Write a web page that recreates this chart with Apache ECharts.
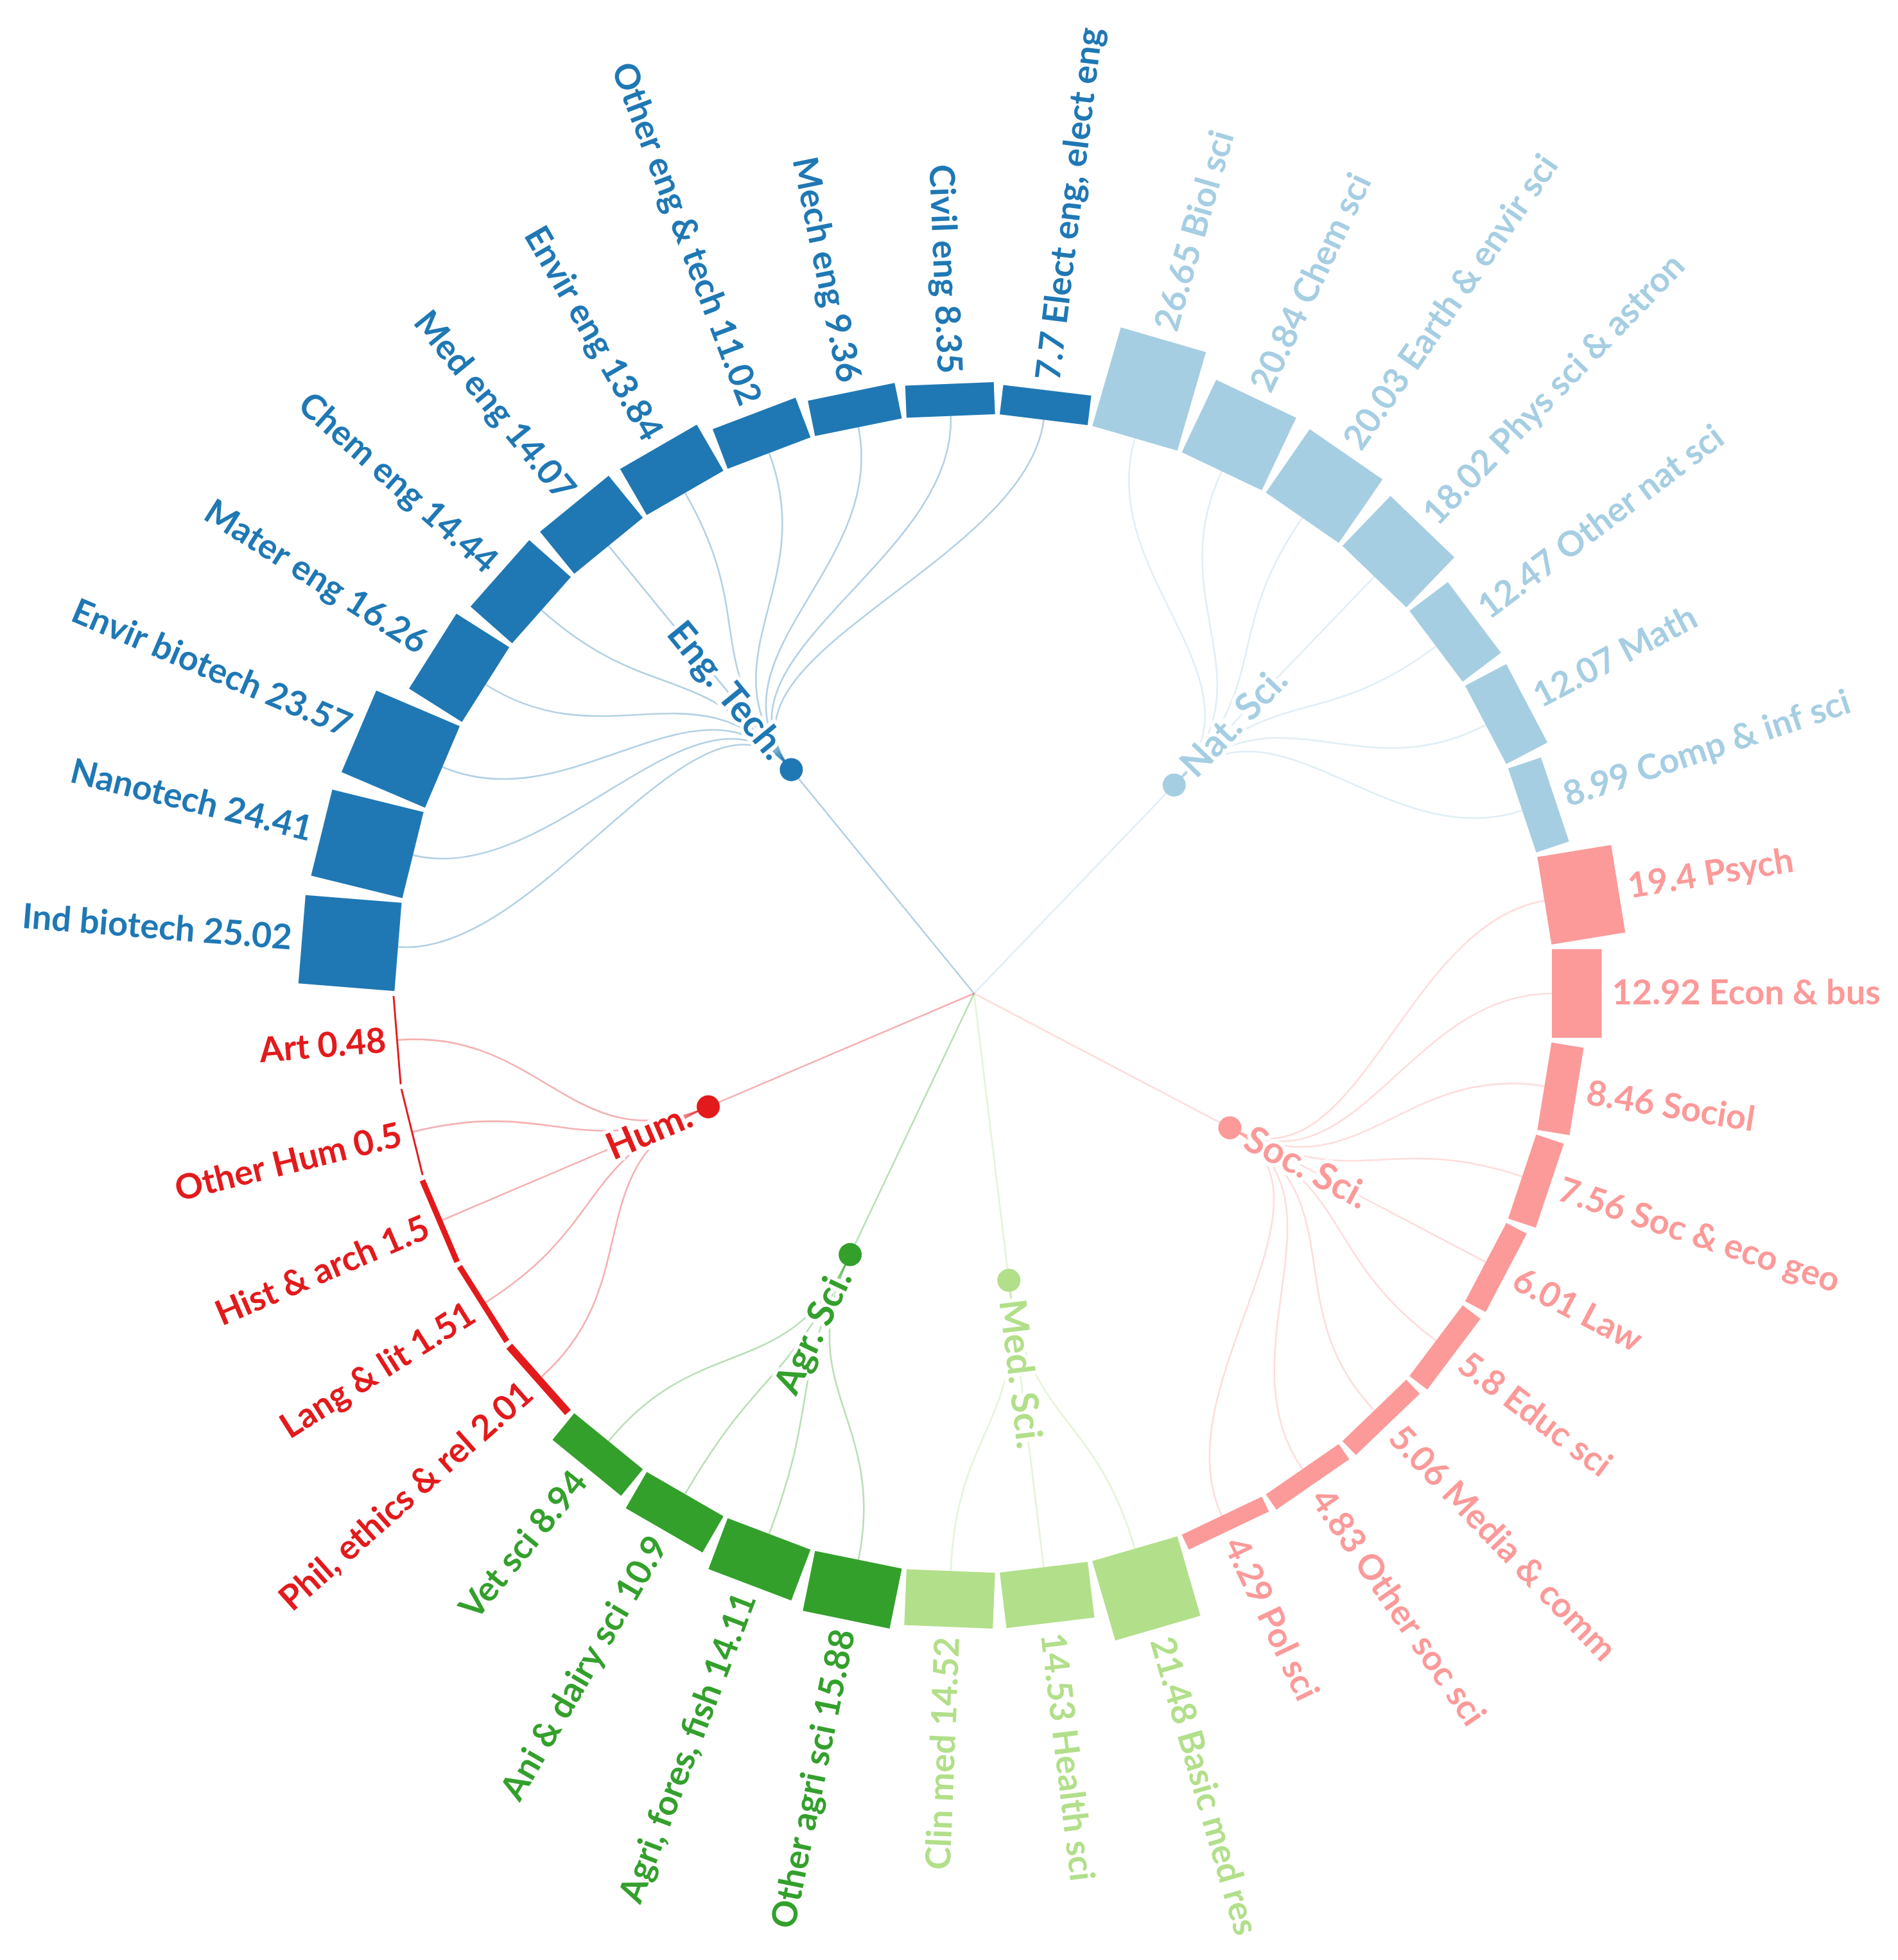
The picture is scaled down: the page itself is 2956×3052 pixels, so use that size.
<!DOCTYPE html>
<html>
<head>
<meta charset="utf-8">
<script src="https://cdn.jsdelivr.net/npm/echarts@6/dist/echarts.min.js"></script>
<style>
html,body{margin:0;padding:0;background:#ffffff;}
#chart{width:2956px;height:3052px;}
</style>
</head>
<body>
<div id="chart"></div>
<script>
// ---------- DATA ----------
const groupNames  = ['Eng. Tech.', 'Nat. Sci.', 'Soc. Sci.', 'Med. Sci.', 'Agr. Sci.', 'Hum.'];
const groupColors = ['#1f78b4', '#a6cee3', '#fb9a99', '#b2df8a', '#33a02c', '#e31a1c'];

const engNames  = ['Ind biotech', 'Nanotech', 'Envir biotech', 'Mater eng', 'Chem eng', 'Med eng', 'Envir eng', 'Other eng & tech', 'Mech eng', 'Civil eng', 'Elect eng, elect eng'];
const engValues = [25.02, 24.41, 23.57, 16.26, 14.44, 14.07, 13.84, 11.02, 9.36, 8.35, 7.7];

const natNames  = ['Biol sci', 'Chem sci', 'Earth & envir sci', 'Phys sci & astron', 'Other nat sci', 'Math', 'Comp & inf sci'];
const natValues = [26.65, 20.84, 20.03, 18.02, 12.47, 12.07, 8.99];

const socNames  = ['Psych', 'Econ & bus', 'Sociol', 'Soc & eco geo', 'Law', 'Educ sci', 'Media & comm', 'Other soc sci', 'Pol sci'];
const socValues = [19.4, 12.92, 8.46, 7.56, 6.01, 5.8, 5.06, 4.83, 4.29];

const medNames  = ['Basic med res', 'Health sci', 'Clin med'];
const medValues = [21.48, 14.53, 14.52];

const agrNames  = ['Other agri sci', 'Agri, fores, fish', 'Ani & dairy sci', 'Vet sci'];
const agrValues = [15.88, 14.11, 10.9, 8.94];

const humNames  = ['Phil, ethics & rel', 'Lang & lit', 'Hist & arch', 'Other Hum', 'Art'];
const humValues = [2.01, 1.51, 1.5, 0.5, 0.48];

const groupLeafNames  = [engNames, natNames, socNames, medNames, agrNames, humNames];
const groupLeafValues = [engValues, natValues, socValues, medValues, agrValues, humValues];

// ---------- flatten ----------
const leafNames = [], leafValues = [], leafGroup = [];
const groupLeaves = groupNames.map(() => []);
groupLeafNames.forEach((names, g) => {
  names.forEach((n, i) => {
    groupLeaves[g].push(leafNames.length);
    leafNames.push(n);
    leafValues.push(groupLeafValues[g][i]);
    leafGroup.push(g);
  });
});

const FONT = 'Lato';
const LEAF_FONT_SIZE = 54;
const GROUP_FONT_SIZE = 58;
const LINK_OPACITY = 0.34;
const LINK_WIDTH = 2.6;

function dirAt(api, cs, idx) {
  const p = api.coord([0, idx]);
  const dx = p[0] - cs.cx, dy = p[1] - cs.cy;
  const r = Math.hypot(dx, dy);
  return { ux: dx / r, uy: dy / r, r: r, p: p };
}
function groupDir(api, cs, g) {
  let sx = 0, sy = 0;
  groupLeaves[g].forEach(k => { const d = dirAt(api, cs, k); sx += d.ux; sy += d.uy; });
  const l = Math.hypot(sx, sy);
  return { ux: sx / l, uy: sy / l };
}
function radialText(x, y, ux, uy, text, color, size) {
  const a = Math.atan2(uy, ux);
  const right = ux >= 0;
  return {
    type: 'text',
    x: x, y: y,
    rotation: right ? -a : Math.PI - a,
    style: {
      text: text, x: 0, y: 0,
      fill: color,
      fontSize: size, fontFamily: FONT, fontWeight: 'bold',
      align: right ? 'left' : 'right',
      verticalAlign: 'middle'
    }
  };
}

const chart = echarts.init(document.getElementById('chart'), null, { renderer: 'canvas' });

const option = {
  backgroundColor: '#ffffff',
  animation: false,
  polar: { center: [1517, 1547], radius: [900, 1080] },
  angleAxis: {
    type: 'category', data: leafNames, startAngle: 180, clockwise: true,
    boundaryGap: true, show: false
  },
  radiusAxis: { type: 'value', min: 0, max: 30, show: false },
  series: [
    // root -> group straight lines
    {
      type: 'custom', coordinateSystem: 'polar', z: 1, silent: true,
      encode: { radius: 0, angle: 1 },
      data: groupNames.map((n, g) => [0, leafNames[groupLeaves[g][0]], g]),
      renderItem: function (params, api) {
        const g = api.value(2);
        const cs = params.coordSys;
        const gd = groupDir(api, cs, g);
        const R1 = cs.r0 / 2;
        return {
          type: 'line',
          shape: { x1: cs.cx, y1: cs.cy, x2: cs.cx + gd.ux * R1, y2: cs.cy + gd.uy * R1 },
          style: { stroke: groupColors[g], lineWidth: LINK_WIDTH, opacity: LINK_OPACITY }
        };
      }
    },
    // group -> leaf curves
    {
      type: 'custom', coordinateSystem: 'polar', z: 1, silent: true,
      encode: { radius: 0, angle: 1 },
      data: leafNames.map((n, i) => [0, n]),
      renderItem: function (params, api) {
        const i = api.value(1);
        const g = leafGroup[i];
        const cs = params.coordSys;
        const ld = dirAt(api, cs, i);
        const gd = groupDir(api, cs, g);
        const R2 = ld.r, R1 = R2 / 2, Rm = (R1 + R2) / 2;
        return {
          type: 'bezierCurve',
          shape: {
            x1: cs.cx + gd.ux * R1, y1: cs.cy + gd.uy * R1,
            cpx1: cs.cx + gd.ux * Rm, cpy1: cs.cy + gd.uy * Rm,
            cpx2: cs.cx + ld.ux * Rm, cpy2: cs.cy + ld.uy * Rm,
            x2: cs.cx + ld.ux * R2, y2: cs.cy + ld.uy * R2
          },
          style: { stroke: groupColors[g], lineWidth: LINK_WIDTH, fill: null, opacity: LINK_OPACITY }
        };
      }
    },
    // leaf bars + labels
    {
      type: 'custom', coordinateSystem: 'polar', z: 2, silent: true,
      encode: { radius: 0, angle: 1 },
      data: leafNames.map((n, i) => [leafValues[i], n]),
      renderItem: function (params, api) {
        const v = api.value(0);
        const i = api.value(1);
        const g = leafGroup[i];
        const cs = params.coordSys;
        const ld = dirAt(api, cs, i);
        const p0 = ld.p;
        const p1 = api.coord([v, i]);
        const nx = -ld.uy, ny = ld.ux;
        const slotArc = ld.r * 2 * Math.PI / leafNames.length;
        const hw = (slotArc - 7) / 2;
        const pts = [
          [p0[0] + nx * hw, p0[1] + ny * hw],
          [p0[0] - nx * hw, p0[1] - ny * hw],
          [p1[0] - nx * hw, p1[1] - ny * hw],
          [p1[0] + nx * hw, p1[1] + ny * hw]
        ];
        const right = ld.ux >= 0;
        const txt = right ? (String(leafValues[i]) + ' ' + leafNames[i]) : (leafNames[i] + ' ' + String(leafValues[i]));
        const off = 16;
        return {
          type: 'group',
          children: [
            { type: 'polygon', shape: { points: pts }, style: { fill: groupColors[g] } },
            radialText(p1[0] + ld.ux * off, p1[1] + ld.uy * off, ld.ux, ld.uy, txt, groupColors[g], LEAF_FONT_SIZE)
          ]
        };
      }
    },
    // group nodes + labels
    {
      type: 'custom', coordinateSystem: 'polar', z: 3, silent: true,
      encode: { radius: 0, angle: 1 },
      data: groupNames.map((n, g) => [0, leafNames[groupLeaves[g][0]], g]),
      renderItem: function (params, api) {
        const g = api.value(2);
        const cs = params.coordSys;
        const gd = groupDir(api, cs, g);
        const R1 = cs.r0 / 2;
        const nx = cs.cx + gd.ux * R1, ny = cs.cy + gd.uy * R1;
        const off = 30;
        const lx = nx + gd.ux * off, ly = ny + gd.uy * off;
        const halo = radialText(lx, ly, gd.ux, gd.uy, groupNames[g], '#ffffff', GROUP_FONT_SIZE);
        halo.style.stroke = '#ffffff';
        halo.style.lineWidth = 12;
        return {
          type: 'group',
          children: [
            halo,
            radialText(lx, ly, gd.ux, gd.uy, groupNames[g], groupColors[g], GROUP_FONT_SIZE),
            { type: 'circle', shape: { cx: nx, cy: ny, r: 18 }, style: { fill: groupColors[g] } }
          ]
        };
      }
    }
  ]
};
chart.setOption(option);
</script>
</body>
</html>
